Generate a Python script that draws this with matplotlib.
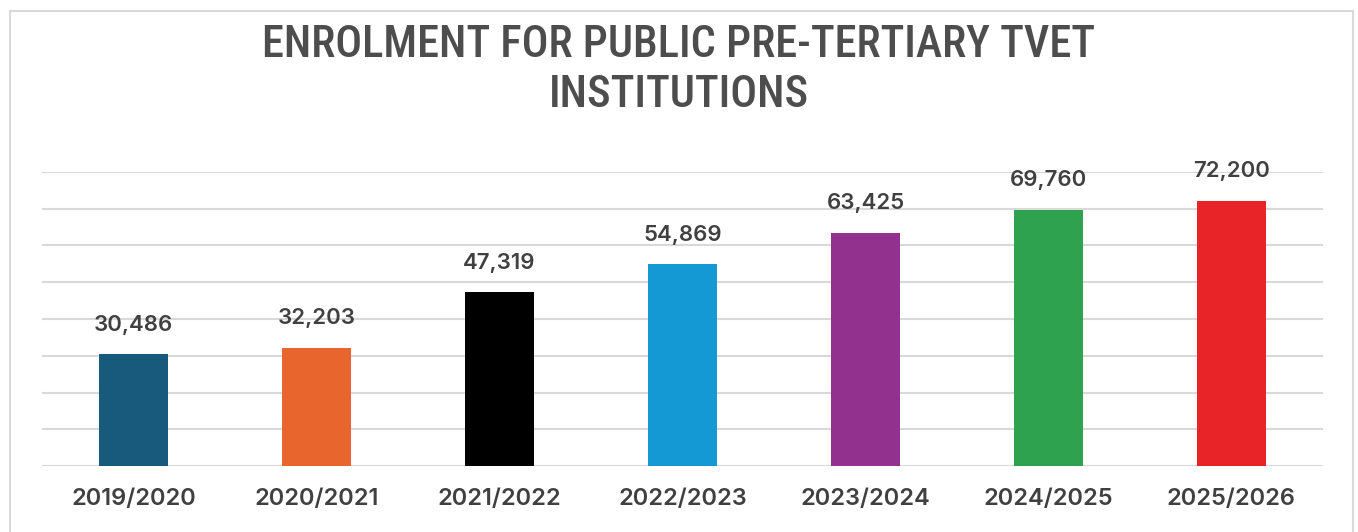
import matplotlib
matplotlib.use("Agg")
import matplotlib.pyplot as plt
from matplotlib.patches import Rectangle

years = ["2019/2020", "2020/2021", "2021/2022", "2022/2023",
         "2023/2024", "2024/2025", "2025/2026"]
enrolment = [30486, 32203, 47319, 54869, 63425, 69760, 72200]
bar_colors = ["#175a7c", "#e8662e", "#000000", "#1499d4",
              "#93318e", "#2ea24f", "#e92428"]
title_lines = ["ENROLMENT FOR PUBLIC PRE-TERTIARY TVET", "INSTITUTIONS"]

TEXT = "#404040"
GRID = "#d9d9d9"
W, H = 1358, 532

fig = plt.figure(figsize=(W / 100, H / 100), dpi=100)
ax = fig.add_axes([42 / W, 1 - 466 / H, 1281 / W, 294 / H])

# chart frame, open at the bottom edge
fig.patches.append(Rectangle((10 / W, -0.05), 1343 / W, 1.05 - 11 / H,
                             transform=fig.transFigure, fill=False,
                             edgecolor=GRID, linewidth=1.5))

x = range(len(years))
bars = ax.bar(x, enrolment, width=0.38, color=bar_colors, zorder=2)

for b, v in zip(bars, enrolment):
    ax.annotate(f"{v:,}", (b.get_x() + b.get_width() / 2, v),
                xytext=(0, 14), textcoords="offset points",
                ha="center", va="bottom", fontsize=16,
                fontweight="semibold", color=TEXT, family="Inter")

ax.set_xlim(-0.5, len(years) - 0.5)
ax.set_ylim(0, 80000)
ax.set_yticks(range(0, 80001, 10000))
ax.yaxis.grid(True, color=GRID, linewidth=1.5, zorder=0)
ax.tick_params(axis="y", left=False, labelleft=False)
ax.tick_params(axis="x", length=0, pad=16)
ax.set_xticks(list(x))
ax.set_xticklabels(years, fontsize=17, fontweight="semibold",
                   color=TEXT, family="Inter")
for s in ax.spines.values():
    s.set_visible(False)

for line, base in zip(title_lines, [57, 107]):
    fig.text(0.5, 1 - base / H, line, ha="center", va="baseline",
             fontsize=32, color="#4d4d4d", family="Roboto Condensed",
             fontweight="medium")

fig.savefig("out.png", dpi=100)
